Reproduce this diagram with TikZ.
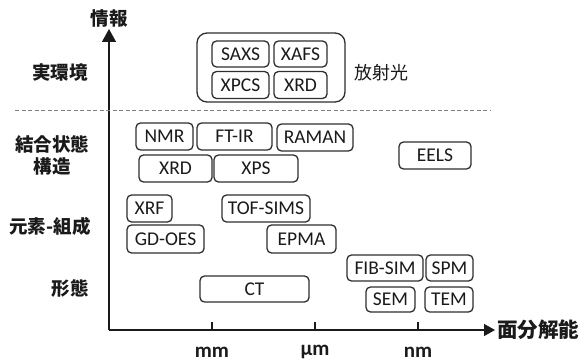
\documentclass[tikz,border=0pt]{standalone}
\usepackage{fontspec}
\setmainfont{Carlito}
\newfontfamily\jp{Noto Sans CJK JP}
\usetikzlibrary{arrows.meta}
\definecolor{boxline}{HTML}{2E2E2E}
\definecolor{axisline}{HTML}{1A1A1A}
\definecolor{txt}{HTML}{1A1A1A}
\tikzset{
  tech/.style={draw=boxline, line width=1.3pt, rounded corners=4.5pt, inner sep=0pt,
    font=\fontsize{19.5}{21}\selectfont, text=txt},
  catlabel/.style={font=\jp\bfseries\fontsize{18.5}{22}\selectfont, text=txt, inner sep=0pt, align=center},
  ticklabel/.style={font=\bfseries\fontsize{21}{23}\selectfont, text=txt, inner sep=0pt},
  axisstyle/.style={draw=axisline, line width=1.4pt},
}
\begin{document}
\begin{tikzpicture}[x=1pt,y=-1pt]
\useasboundingbox (0,0) rectangle (580,363);
% axes
\coordinate (O) at (109,330);
\coordinate (ytop) at (109,29);
\coordinate (xend) at (495,330);
\draw[axisstyle,-{Triangle[length=13pt,width=14pt]}] (O) -- (ytop);
\draw[axisstyle,-{Triangle[length=11pt,width=12pt]}] (O) -- (xend);
\node[catlabel, anchor=south] (yl) at (109,27) {情報};
\node[catlabel, anchor=west, font=\jp\bfseries\fontsize{20.5}{22}\selectfont] (xl) at (497,330) {面分解能};
% ticks
\coordinate (tmm) at (212,330);
\coordinate (tum) at (315,330);
\coordinate (tnm) at (418,330);
\draw[axisstyle] (tmm) -- ++(0,-8);
\draw[axisstyle] (tum) -- ++(0,-8);
\draw[axisstyle] (tnm) -- ++(0,-8);
\node[ticklabel] (lmm) at (212,352) {mm};
\node[ticklabel] (lum) at (315,352) {µm};
\node[ticklabel] (lnm) at (418,352) {nm};
% dashed separator
\coordinate (d1) at (15,110);
\coordinate (d2) at (490,110);
\draw[draw=gray, line width=0.8pt, dash pattern=on 4pt off 2.5pt] (d1) -- (d2);
% category labels
\node[catlabel] (c1) at (60,73) {実環境};
\node[catlabel] (c2) at (52,155) {結合状態\\構造};
\node[catlabel] (c3) at (50,226) {元素-組成};
\node[catlabel] (c4) at (70,288) {形態};
% synchrotron group
\node[draw=boxline, line width=1.3pt, rounded corners=10pt, minimum width=148pt, minimum height=69pt] (big) at (271,67.5) {};
\node[tech, minimum width=57pt, minimum height=26pt] (saxs) at (240.5,54) {SAXS};
\node[tech, minimum width=53pt, minimum height=26pt] (xafs) at (300.5,54) {XAFS};
\node[tech, minimum width=57pt, minimum height=27pt] (xpcs) at (240.5,85) {XPCS};
\node[tech, minimum width=53pt, minimum height=27pt] (xrda) at (300.5,85) {XRD};
\node[font=\jp\fontsize{18}{20}\selectfont, text=txt, inner sep=0pt] (sr) at (381,73) {放射光};
% bonding / structure
\node[tech, minimum width=57pt, minimum height=27pt] (nmr) at (164.5,136.5) {NMR};
\node[tech, minimum width=75pt, minimum height=27pt] (ftir) at (234.5,136.5) {FT-IR};
\node[tech, minimum width=76pt, minimum height=27pt] (raman) at (315,137.5) {RAMAN};
\node[tech, minimum width=73pt, minimum height=27pt] (xrdb) at (175.5,168.5) {XRD};
\node[tech, minimum width=84pt, minimum height=27pt] (xps) at (256,168.5) {XPS};
\node[tech, minimum width=72pt, minimum height=27pt] (eels) at (435,155.5) {EELS};
% elements
\node[tech, minimum width=45pt, minimum height=27pt] (xrf) at (149.5,208.5) {XRF};
\node[tech, minimum width=88pt, minimum height=27pt] (tof) at (266,208.5) {TOF-SIMS};
\node[tech, minimum width=77pt, minimum height=28pt] (gdoes) at (165.5,239) {GD-OES};
\node[tech, minimum width=69pt, minimum height=28pt] (epma) at (301.5,239) {EPMA};
% morphology
\node[tech, minimum width=109pt, minimum height=26pt] (ct) at (254.5,289) {CT};
\node[tech, minimum width=76pt, minimum height=26pt] (fib) at (385,268) {FIB-SIM};
\node[tech, minimum width=47pt, minimum height=26pt] (spm) at (449.5,268) {SPM};
\node[tech, minimum width=49pt, minimum height=25pt] (sem) at (390.5,299.5) {SEM};
\node[tech, minimum width=48pt, minimum height=25pt] (tem) at (449,299.5) {TEM};
\end{tikzpicture}
\end{document}
